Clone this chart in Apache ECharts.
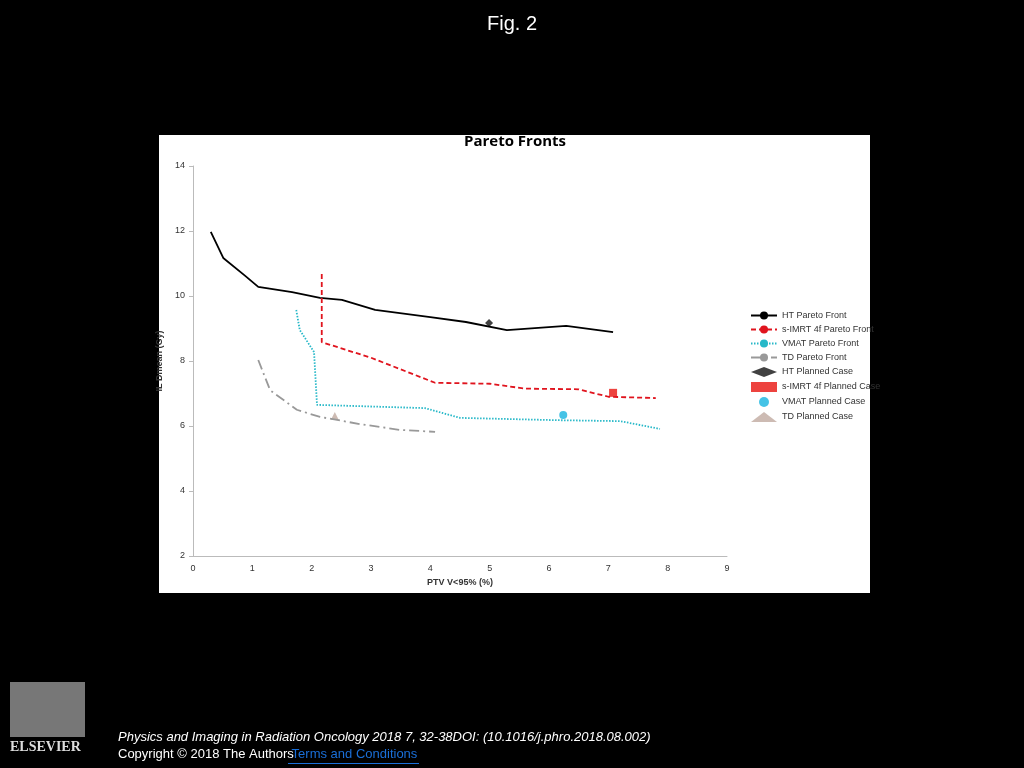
<!DOCTYPE html>
<html><head><meta charset="utf-8">
<script src="https://cdn.jsdelivr.net/npm/echarts@6/dist/echarts.min.js"></script>
<style>html,body{margin:0;background:#000;}#c{width:1024px;height:768px;}</style>
</head><body><div id="c"></div>
<script>
const htFront = [[0.30,11.97],[0.51,11.17],[0.88,10.62],[1.10,10.28],[1.67,10.12],[2.14,9.94],[2.51,9.88],[3.07,9.57],[4.0,9.35],[4.6,9.2],[5.29,8.95],[6.29,9.08],[7.08,8.89]];
const imrtFront = [[2.17,10.68],[2.17,8.58],[3.0,8.1],[4.08,7.33],[5.0,7.3],[5.6,7.15],[6.5,7.13],[7.0,6.9],[7.8,6.86]];
const vmatFront = [[1.74,9.57],[1.80,8.95],[2.04,8.28],[2.09,6.65],[3.0,6.6],[3.91,6.55],[4.5,6.25],[6.1,6.18],[7.2,6.15],[7.87,5.91]];
const tdFront = [[1.10,8.03],[1.30,7.1],[1.75,6.5],[2.14,6.28],[2.81,6.06],[3.49,5.88],[4.08,5.82]];
const htCase = [[4.99,9.17]];
const imrtCase = [[7.08,7.02]];
const vmatCase = [[6.24,6.34]];
const tdCase = [[2.39,6.31]];
const names = ['HT Pareto Front','s-IMRT 4f Pareto Front','VMAT Pareto Front','TD Pareto Front','HT Planned Case','s-IMRT 4f Planned Case','VMAT Planned Case','TD Planned Case'];
const chart = echarts.init(document.getElementById('c'));
const f = 'Liberation Sans';
chart.setOption({
  backgroundColor:'#000',
  animation:false,
  graphic:[
    {type:'rect',shape:{x:159,y:135,width:711,height:458},style:{fill:'#fff'},z:-10},
    {type:'text',left:'center',top:14,style:{text:'Fig. 2',fill:'#fff',font:'20px "Liberation Sans"'}},
    {type:'text',left:464,top:134,style:{text:'Pareto Fronts',fill:'#000',font:'bold 15px "Open Sans"'}},
    {type:'text',left:118,top:731,style:{text:'Physics and Imaging in Radiation Oncology 2018 7, 32-38DOI: (10.1016/j.phro.2018.08.002)',fill:'#fff',font:'italic 13px "Liberation Sans"'}},
    {type:'text',left:118,top:748,style:{text:'Copyright © 2018 The Authors',fill:'#fff',font:'13px "Liberation Sans"'}},
    {type:'text',left:288,top:748,style:{text:' Terms and Conditions',fill:'#1a6fd8',font:'13px "Liberation Sans"'}},
    {type:'rect',shape:{x:288,y:763,width:131,height:1},style:{fill:'#1a6fd8'}},
    {type:'rect',shape:{x:10,y:682,width:75,height:55},style:{fill:'#777'}},
    {type:'text',left:10,top:740,style:{text:'ELSEVIER',fill:'#ddd',font:'bold 14px "Liberation Serif"'}}
  ],
  grid:{left:193,right:297,top:166,bottom:212},
  xAxis:{type:'value',min:0,max:9,interval:1,name:'PTV V<95% (%)',nameLocation:'middle',nameGap:18,
    nameTextStyle:{fontSize:9,fontWeight:'bold',color:'#333',fontFamily:f},
    axisLine:{lineStyle:{color:'#bbb'}},axisTick:{show:false},splitLine:{show:false},
    axisLabel:{fontSize:9,color:'#333',fontFamily:f}},
  yAxis:{type:'value',min:2,max:14,interval:2,name:'IL Dmean (Gy)',nameLocation:'middle',nameGap:20,
    nameTextStyle:{fontSize:9,fontWeight:'bold',color:'#333',fontFamily:f},
    axisLine:{show:true,lineStyle:{color:'#bbb'}},axisTick:{show:true,inside:false,length:4,lineStyle:{color:'#bbb'}},splitLine:{show:false},
    axisLabel:{fontSize:9,color:'#333',fontFamily:f}},
  legend:{orient:'vertical',left:745,top:306,itemGap:5,itemWidth:26,itemHeight:10,
    textStyle:{fontSize:9,color:'#333',fontFamily:f},data:names},
  series:[
    {name:names[0],type:'line',data:htFront,symbol:'none',lineStyle:{color:'#000',width:1.8},itemStyle:{color:'#000'}},
    {name:names[1],type:'line',data:imrtFront,symbol:'none',lineStyle:{color:'#e0141e',width:1.8,type:[5,3]},itemStyle:{color:'#e0141e'}},
    {name:names[2],type:'line',data:vmatFront,symbol:'none',lineStyle:{color:'#26b8c8',width:1.8,type:[1.5,1.5]},itemStyle:{color:'#26b8c8'}},
    {name:names[3],type:'line',data:tdFront,symbol:'none',lineStyle:{color:'#999',width:1.8,type:[10,4,2,4]},itemStyle:{color:'#999'}},
    {name:names[4],type:'scatter',data:htCase,symbol:'diamond',symbolSize:8,itemStyle:{color:'#111'}},
    {name:names[5],type:'scatter',data:imrtCase,symbol:'rect',symbolSize:8,itemStyle:{color:'#e8140f'}},
    {name:names[6],type:'scatter',data:vmatCase,symbol:'circle',symbolSize:8,itemStyle:{color:'#16b4e0'}},
    {name:names[7],type:'scatter',data:tdCase,symbol:'triangle',symbolSize:8,itemStyle:{color:'#c0aaa0'}}
  ]
});
</script></body></html>
